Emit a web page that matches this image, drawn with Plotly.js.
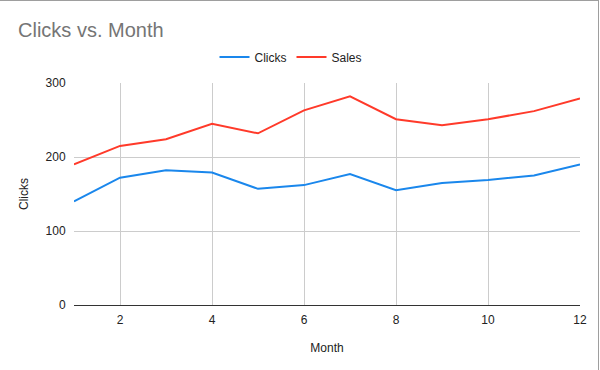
<!DOCTYPE html>
<html>
<head>
<meta charset="utf-8">
<script src="https://cdn.plot.ly/plotly-3.0.1.min.js"></script>
<style>
html,body{margin:0;padding:0;background:#fff;}
#wrap{position:relative;width:600px;height:370px;}
#chart{width:600px;height:370px;}
#frame{position:absolute;left:0;top:0;width:599px;height:370px;border-top:1px solid #9e9e9e;border-right:1px solid #9e9e9e;box-sizing:border-box;pointer-events:none;}
</style>
</head>
<body>
<div id="wrap"><div id="chart"></div><div id="frame"></div></div>
<script>
var months = [1,2,3,4,5,6,7,8,9,10,11,12];
var clicks = [140,172,182,179,157,162,177,155,165,169,175,190];
var sales  = [190,215,224,245,232,263,282,251,243,251,262,279];
var xTicks = [2,4,6,8,10,12];
var yTicks = [0,100,200,300];

var font = "Arial, 'Liberation Sans', sans-serif";
var traces = [
  {x: months, y: clicks, name: 'Clicks', type: 'scatter', mode: 'lines',
   line: {color: '#1a87ec', width: 2}},
  {x: months, y: sales, name: 'Sales', type: 'scatter', mode: 'lines',
   line: {color: '#ff3a2a', width: 2}}
];
var layout = {
  width: 600, height: 370,
  margin: {l: 74, r: 20, t: 83, b: 65},
  paper_bgcolor: '#fff', plot_bgcolor: '#fff',
  font: {family: font, size: 12, color: '#444'},
  title: {text: 'Clicks vs. Month', x: 18/600, xanchor: 'left', xref: 'container',
          y: 1 - 30/370, yanchor: 'middle', yref: 'container',
          font: {family: font, size: 20, color: '#757575'}},
  showlegend: true,
  legend: {orientation: 'h', x: 0.485, xanchor: 'center', xref: 'container',
           y: 1 - 57/370, yanchor: 'middle', yref: 'container',
           font: {family: font, size: 12, color: '#222'}, itemwidth: 30},
  xaxis: {range: [1, 12], tickvals: xTicks, ticks: 'outside', ticklen: 4, tickcolor: 'rgba(0,0,0,0)',
          showgrid: true, gridcolor: '#cccccc',
          zeroline: false, showline: false,
          tickfont: {family: font, size: 12, color: '#222'},
          title: {text: 'Month', font: {family: font, size: 12, color: '#222'}, standoff: 17}},
  yaxis: {range: [0, 300], tickvals: yTicks, ticks: 'outside', ticklen: 5, tickcolor: 'rgba(0,0,0,0)',
          showgrid: true, gridcolor: '#cccccc',
          zeroline: true, zerolinecolor: '#333', zerolinewidth: 1, showline: false,
          tickfont: {family: font, size: 12, color: '#222'},
          title: {text: 'Clicks', font: {family: font, size: 12, color: '#222'}, standoff: 14}},
  hovermode: false
};
Plotly.newPlot('chart', traces, layout, {displayModeBar: false, staticPlot: true});
</script>
</body>
</html>
